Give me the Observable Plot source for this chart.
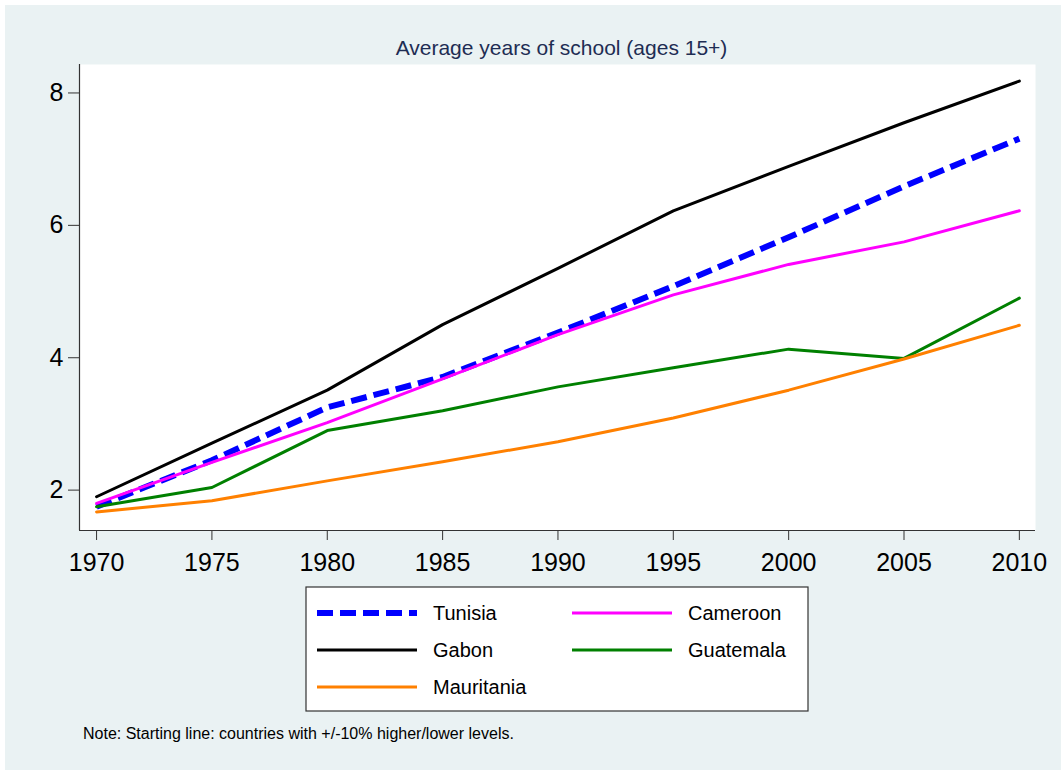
<!DOCTYPE html>
<html><head><meta charset="utf-8">
<script src="https://cdn.jsdelivr.net/npm/d3@7"></script>
<script src="https://cdn.jsdelivr.net/npm/@observablehq/plot@0.6"></script>
<style>
body{margin:0;background:#fff;font-family:"Liberation Sans",Arial,sans-serif;}
#wrap{position:relative;width:1061px;height:771px;background:#fff;overflow:hidden}
#bg{position:absolute;left:5px;top:5px;width:1056px;height:765px;background:#eaf2f3}
#plot{position:absolute;left:0;top:0}
#overlay{position:absolute;left:0;top:0}
</style></head>
<body>
<div id="wrap"><div id="bg"></div><div id="plot"></div>
<svg id="overlay" width="1061" height="771" font-family="Liberation Sans, Arial, sans-serif"></svg>
</div>
<script>
const years = [1970, 1975, 1980, 1985, 1990, 1995, 2000, 2005, 2010];
const tunisia    = [1.75, 2.45, 3.25, 3.71, 4.38, 5.08, 5.82, 6.59, 7.31];
const cameroon   = [1.80, 2.42, 3.02, 3.68, 4.35, 4.95, 5.41, 5.75, 6.22];
const gabon      = [1.90, 2.71, 3.51, 4.50, 5.35, 6.22, 6.89, 7.55, 8.18];
const guatemala  = [1.75, 2.04, 2.90, 3.20, 3.56, 3.85, 4.13, 3.99, 4.90];
const mauritania = [1.67, 1.84, 2.14, 2.43, 2.73, 3.09, 3.51, 3.98, 4.49];
const seriesNames = ["Tunisia", "Cameroon", "Gabon", "Guatemala", "Mauritania"];
const seriesValues = [tunisia, cameroon, gabon, guatemala, mauritania];
const xTicks = [1970, 1975, 1980, 1985, 1990, 1995, 2000, 2005, 2010];
const yTicks = [2, 4, 6, 8];
const titleText = "Average years of school (ages 15+)";
const noteText = "Note: Starting line: countries with +/-10% higher/lower levels.";

const styles = {
  Tunisia:    {stroke: "#0000ff", strokeWidth: 6, strokeDasharray: "16,7"},
  Cameroon:   {stroke: "#ff00ff", strokeWidth: 3},
  Gabon:      {stroke: "#000000", strokeWidth: 3},
  Guatemala:  {stroke: "#008000", strokeWidth: 3},
  Mauritania: {stroke: "#ff8000", strokeWidth: 3}
};

const xDomain = [1969.26, 2010.7];
const yDomain = [1.39, 8.43];

const lines = seriesNames.map((name, i) => {
  const data = years.map((yr, j) => ({year: yr, value: seriesValues[i][j]}));
  return Plot.line(data, {x: "year", y: "value", ...styles[name], strokeLinecap: name === "Tunisia" ? "butt" : "round", strokeLinejoin: "round"});
});

const chart = Plot.plot({
  width: 1061, height: 580,
  marginLeft: 79, marginRight: 26, marginTop: 64, marginBottom: 50,
  style: {background: "transparent", fontFamily: "Liberation Sans, Arial, sans-serif", fontSize: "25px", color: "black", overflow: "visible"},
  x: {domain: xDomain},
  y: {domain: yDomain},
  marks: [
    Plot.frame({fill: "white", stroke: "none"}),
    Plot.axisX({ticks: xTicks, tickSize: 10, tickPadding: 13, tickFormat: d => String(d), label: null, fontSize: 25, stroke: "#333"}),
    Plot.axisY({ticks: yTicks, tickSize: 11, tickPadding: 5, tickFormat: d => String(d), label: null, fontSize: 25, stroke: "#333"}),
    Plot.ruleX([xDomain[0]], {stroke: "#333", strokeWidth: 1.2}),
    Plot.ruleY([yDomain[0]], {stroke: "#333", strokeWidth: 1.2}),
    ...lines
  ]
});
document.getElementById("plot").appendChild(chart);

// overlay: title, legend, note
const ov = d3.select("#overlay");
ov.append("text").attr("x", 561.5).attr("y", 54.5).attr("text-anchor", "middle")
  .attr("font-size", 21).attr("fill", "#1e2d53").text(titleText);

const lg = ov.append("g");
lg.append("rect").attr("x", 306).attr("y", 587).attr("width", 502).attr("height", 124)
  .attr("fill", "white").attr("stroke", "#333").attr("stroke-width", 1.2);
const legendOrder = ["Tunisia", "Cameroon", "Gabon", "Guatemala", "Mauritania"];
const colX = [317, 572], rowY = [613, 650, 687];
legendOrder.forEach((name, i) => {
  const cx = colX[i % 2], cy = rowY[Math.floor(i / 2)];
  const s = styles[name];
  lg.append("line").attr("x1", cx).attr("x2", cx + 100).attr("y1", cy).attr("y2", cy)
    .attr("stroke", s.stroke).attr("stroke-width", s.strokeWidth)
    .attr("stroke-dasharray", s.strokeDasharray || null);
  lg.append("text").attr("x", cx + 116).attr("y", cy + 7).attr("font-size", 20).attr("fill", "black").text(name);
});

ov.append("text").attr("x", 83).attr("y", 739).attr("font-size", 16).attr("fill", "black").text(noteText);
</script>
</body></html>
